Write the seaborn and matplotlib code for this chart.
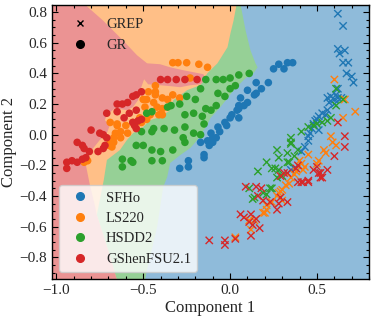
import numpy as np
import pandas as pd
import matplotlib
matplotlib.use("Agg")
import matplotlib.pyplot as plt
from matplotlib.colors import to_rgb
from matplotlib.ticker import MultipleLocator
from matplotlib.lines import Line2D
import seaborn as sns

EOS = ["SFHo", "LS220", "HSDD2", "GShenFSU2.1"]
TAB = ["#1f77b4", "#ff7f0e", "#2ca02c", "#d62728"]

# GR simulations (circles), PCA components
GR_SFHO = [(0.25, 0.43), (0.28, 0.46), (0.31, 0.43), (0.33, 0.47), (0.36, 0.47),
           (0.15, 0.34), (0.22, 0.34), (0.18, 0.30), (0.10, 0.29), (0.14, 0.26),
           (0.15, 0.27), (0.06, 0.24), (0.10, 0.21), (0.08, 0.19), (0.05, 0.19),
           (0.05, 0.17), (0.04, 0.16), (0.05, 0.11), (0.01, 0.13), (0.00, 0.11),
           (-0.03, 0.08), (-0.02, 0.06), (-0.07, 0.05), (-0.06, 0.02), (-0.11, 0.01),
           (-0.10, -0.02), (-0.08, -0.02), (-0.13, -0.04), (-0.10, -0.05), (-0.12, -0.07),
           (-0.17, -0.05), (-0.15, -0.13), (-0.15, -0.15), (-0.24, -0.17), (-0.24, -0.21),
           (-0.29, -0.22)]
GR_LS220 = [(-0.33, 0.47), (-0.30, 0.47), (-0.25, 0.47), (-0.18, 0.46), (-0.13, 0.44),
            (-0.23, 0.37), (-0.43, 0.32), (-0.43, 0.28), (-0.47, 0.28), (-0.48, 0.23),
            (-0.50, 0.23), (-0.49, 0.18), (-0.43, 0.26), (-0.39, 0.24), (-0.36, 0.23),
            (-0.33, 0.26), (-0.29, 0.24), (-0.44, 0.21), (-0.42, 0.18), (-0.41, 0.13),
            (-0.46, 0.13), (-0.39, 0.13), (-0.39, 0.17), (-0.52, 0.11), (-0.48, 0.10),
            (-0.51, 0.08), (-0.56, 0.08), (-0.60, 0.06), (-0.65, 0.06), (-0.63, 0.02),
            (-0.59, 0.01), (-0.66, 0.01), (-0.67, -0.05), (-0.69, 0.08), (-0.65, 0.07),
            (-0.63, -0.02), (-0.67, -0.02), (-0.69, -0.05), (-0.70, -0.07), (-0.68, -0.08),
            (-0.82, -0.17), (-0.84, -0.18)]
GR_HSDD2 = [(-0.14, 0.36), (-0.08, 0.36), (-0.04, 0.36), (0.00, 0.37), (0.05, 0.39),
            (0.11, 0.40), (0.03, 0.32), (0.00, 0.30), (-0.07, 0.27), (-0.03, 0.25),
            (-0.17, 0.30), (-0.25, 0.25), (-0.36, 0.18), (-0.29, 0.20), (-0.20, 0.23),
            (-0.14, 0.17), (-0.11, 0.16), (-0.08, 0.19), (-0.16, 0.12), (-0.15, 0.07),
            (-0.21, 0.14), (-0.26, 0.13), (-0.34, 0.19), (-0.45, 0.15), (-0.48, 0.14),
            (-0.26, 0.05), (-0.21, 0.01), (-0.32, 0.03), (-0.38, 0.04), (-0.44, 0.04),
            (-0.51, 0.02), (-0.45, 0.02), (-0.27, -0.02), (-0.17, 0.00), (-0.26, -0.05),
            (-0.33, -0.10), (-0.40, -0.11), (-0.45, -0.10), (-0.50, -0.07), (-0.54, -0.07),
            (-0.45, -0.17), (-0.39, -0.17), (-0.62, -0.16), (-0.57, -0.17), (-0.62, -0.21),
            (-0.56, -0.18)]
GR_GSHEN = [(-0.40, 0.36), (-0.36, 0.36), (-0.31, 0.36), (-0.26, 0.36), (-0.19, 0.36),
            (-0.51, 0.28), (-0.54, 0.26), (-0.56, 0.25), (-0.59, 0.21), (-0.62, 0.20),
            (-0.65, 0.20), (-0.71, 0.14), (-0.58, 0.14), (-0.54, 0.16), (-0.65, 0.15),
            (-0.61, 0.11), (-0.51, 0.10), (-0.53, 0.09), (-0.56, 0.08), (-0.55, 0.06),
            (-0.54, 0.04), (-0.80, 0.03), (-0.75, 0.01), (-0.73, 0.00), (-0.71, -0.02),
            (-0.88, -0.05), (-0.85, -0.07), (-0.84, -0.09), (-0.81, -0.11), (-0.76, -0.11),
            (-0.73, -0.09), (-0.72, -0.07), (-0.94, -0.18), (-0.94, -0.22), (-0.91, -0.17),
            (-0.88, -0.18), (-0.85, -0.16), (-0.83, -0.15)]

# GREP simulations (crosses)
GREP_SFHO = [(0.62, 0.79), (0.65, 0.71), (0.62, 0.56), (0.66, 0.55), (0.63, 0.53),
             (0.65, 0.47), (0.68, 0.47), (0.67, 0.40), (0.70, 0.38), (0.71, 0.34),
             (0.62, 0.30), (0.56, 0.24), (0.58, 0.25), (0.60, 0.23), (0.62, 0.24),
             (0.57, 0.21), (0.60, 0.20), (0.64, 0.24), (0.61, 0.26), (0.56, 0.16),
             (0.55, 0.13), (0.53, 0.14), (0.51, 0.12), (0.50, 0.10), (0.49, 0.09),
             (0.48, 0.07), (0.51, 0.03), (0.47, 0.04), (0.46, 0.01), (0.45, -0.01),
             (0.45, -0.04), (0.43, -0.08), (0.41, -0.11), (0.35, -0.23), (0.37, -0.22)]
GREP_LS220 = [(0.60, 0.36), (0.66, 0.23), (0.72, 0.15), (0.65, 0.11), (0.58, -0.01),
              (0.59, -0.05), (0.61, -0.07), (0.54, -0.10), (0.55, -0.12), (0.51, -0.17),
              (0.45, -0.13), (0.40, -0.17), (0.42, -0.23), (0.38, -0.24), (0.35, -0.28),
              (0.34, -0.32), (0.41, -0.19), (0.37, -0.26), (0.29, -0.37), (0.28, -0.38),
              (0.30, -0.36), (0.27, -0.40), (0.21, -0.46), (0.21, -0.49), (0.19, -0.51),
              (0.20, -0.51), (0.14, -0.56), (0.11, -0.56), (0.12, -0.62), (0.03, -0.67),
              (0.50, -0.19), (0.43, -0.21), (0.30, -0.43), (0.24, -0.44), (0.32, -0.33)]
GREP_HSDD2 = [(0.61, 0.30), (0.61, 0.19), (0.65, 0.23), (0.58, 0.11), (0.56, 0.09),
              (0.53, 0.08), (0.50, 0.07), (0.48, 0.06), (0.45, 0.05), (0.41, 0.02),
              (0.35, -0.02), (0.35, -0.05), (0.35, -0.06), (0.39, -0.10), (0.27, -0.10),
              (0.33, -0.12), (0.28, -0.15), (0.37, -0.14), (0.21, -0.18), (0.34, -0.18),
              (0.24, -0.22), (0.28, -0.23), (0.30, -0.27), (0.27, -0.28), (0.24, -0.35),
              (0.16, -0.24), (0.11, -0.35), (0.13, -0.42), (0.19, -0.38), (0.21, -0.39),
              (0.14, -0.41), (0.23, -0.35), (0.33, -0.18), (0.26, -0.22)]
GREP_GSHEN = [(0.62, 0.08), (0.66, -0.01), (0.66, -0.08), (0.60, -0.14), (0.56, -0.23),
              (0.51, -0.25), (0.52, -0.28), (0.48, -0.23), (0.45, -0.31), (0.42, -0.31),
              (0.39, -0.31), (0.38, -0.22), (0.39, -0.20), (0.33, -0.25), (0.29, -0.27),
              (0.28, -0.45), (0.29, -0.41), (0.23, -0.44), (0.18, -0.35), (0.15, -0.34),
              (0.16, -0.40), (0.19, -0.43), (0.12, -0.52), (0.15, -0.55), (0.06, -0.52),
              (0.08, -0.54), (0.11, -0.57), (0.17, -0.61), (0.12, -0.66), (0.13, -0.59),
              (-0.03, -0.69), (-0.03, -0.72), (-0.12, -0.69), (0.03, -0.68), (0.09, -0.34),
              (0.27, -0.49), (0.33, -0.44), (0.31, -0.25), (0.45, -0.30), (0.41, -0.31),
              (0.52, -0.25), (0.53, -0.28), (0.50, -0.21)]

# classifier decision boundaries (top -> bottom)
EDGE_GREEN_BLUE = [(0.060, 0.85), (0.089, 0.681), (0.117, 0.551), (0.146, 0.466),
                   (0.158, 0.440), (0.135, 0.401), (0.089, 0.369), (0.020, 0.291),
                   (-0.015, 0.238), (-0.056, 0.180), (-0.114, 0.108), (-0.131, 0.063),
                   (-0.189, -0.035), (-0.229, -0.087), (-0.287, -0.133), (-0.345, -0.185),
                   (-0.362, -0.276), (-0.385, -0.342), (-0.420, -0.602), (-0.478, -0.883),
                   (-0.490, -0.95)]
EDGE_ORANGE_GREEN = [(0.037, 0.85), (0.020, 0.746), (0.002, 0.662), (-0.015, 0.571),
                     (-0.073, 0.466), (-0.131, 0.401), (-0.160, 0.345), (-0.172, 0.323),
                     (-0.247, 0.291), (-0.287, 0.258), (-0.327, 0.225), (-0.345, 0.160),
                     (-0.403, 0.115), (-0.461, 0.095), (-0.501, 0.050), (-0.559, 0.010),
                     (-0.594, -0.035), (-0.634, -0.100), (-0.709, -0.165), (-0.727, -0.296),
                     (-0.750, -0.427), (-0.767, -0.524), (-0.703, -0.752), (-0.651, -0.95)]
EDGE_RED_ORANGE = [(-0.836, 0.85), (-0.732, 0.746), (-0.617, 0.616), (-0.536, 0.519),
                   (-0.478, 0.466), (-0.403, 0.460), (-0.345, 0.440), (-0.270, 0.421),
                   (-0.212, 0.408), (-0.154, 0.395), (-0.137, 0.362), (-0.172, 0.329),
                   (-0.229, 0.323), (-0.287, 0.310), (-0.345, 0.317), (-0.403, 0.323),
                   (-0.472, 0.329), (-0.495, 0.362), (-0.513, 0.304), (-0.530, 0.225),
                   (-0.559, 0.180), (-0.594, 0.160), (-0.663, 0.173), (-0.709, 0.128),
                   (-0.721, 0.095), (-0.692, 0.063), (-0.709, 0.010), (-0.750, -0.035),
                   (-0.796, -0.100), (-0.836, -0.165), (-0.807, -0.328), (-0.779, -0.459),
                   (-0.767, -0.524), (-0.703, -0.752), (-0.651, -0.95)]

XLIM = (-1.025, 0.80)
YLIM = (-0.943, 0.846)

rows = []
for sim, groups in [("GR", [GR_SFHO, GR_LS220, GR_HSDD2, GR_GSHEN]),
                    ("GREP", [GREP_SFHO, GREP_LS220, GREP_HSDD2, GREP_GSHEN])]:
    for name, pts in zip(EOS, groups):
        for x, y in pts:
            rows.append({"Component 1": x, "Component 2": y, "EOS": name, "sim": sim})
df = pd.DataFrame(rows)


def light(c, a=0.5):
    # colour at alpha a over a white background, kept opaque so layers don't mix
    r = np.array(to_rgb(c))
    return tuple(a * r + (1 - a))


sns.set_theme(style="ticks")
plt.rcParams["font.family"] = ["Liberation Serif", "DejaVu Serif"]
plt.rcParams["xtick.direction"] = "in"
plt.rcParams["ytick.direction"] = "in"

fig = plt.figure(figsize=(3.74, 3.19), dpi=100)
ax = fig.add_axes([0.139, 0.125, 0.848, 0.859])

# decision regions: SFHo everywhere, then the other classes stacked on top
ax.set_facecolor(light(TAB[0]))
for edge, col in [(EDGE_GREEN_BLUE, TAB[2]), (EDGE_ORANGE_GREEN, TAB[1]), (EDGE_RED_ORANGE, TAB[3])]:
    xs = [p[0] for p in edge] + [-1.2, -1.2]
    ys = [p[1] for p in edge] + [-1.0, 1.0]
    ax.fill(xs, ys, color=light(col), lw=0, zorder=0)

sns.scatterplot(data=df[df["sim"] == "GR"], x="Component 1", y="Component 2", hue="EOS",
                hue_order=EOS, palette=TAB, marker="o", s=30, linewidth=0, ax=ax, legend=False,
                zorder=2)
sns.scatterplot(data=df[df["sim"] == "GREP"], x="Component 1", y="Component 2", hue="EOS",
                hue_order=EOS, palette=TAB, marker="x", s=28, linewidth=1.0, ax=ax, legend=False,
                zorder=2)

ax.set_xlim(*XLIM)
ax.set_ylim(*YLIM)
ax.set_xlabel("Component 1", fontsize=12, labelpad=2)
ax.set_ylabel("Component 2", fontsize=12, labelpad=2)
ax.xaxis.set_major_locator(MultipleLocator(0.5))
ax.xaxis.set_minor_locator(MultipleLocator(0.1))
ax.yaxis.set_major_locator(MultipleLocator(0.2))
ax.yaxis.set_minor_locator(MultipleLocator(0.05))
ax.tick_params(which="both", top=True, right=True, labelsize=11, width=0.8, color="black")
ax.tick_params(which="major", length=4.5)
ax.tick_params(which="minor", length=2.2)
for sp in ax.spines.values():
    sp.set_linewidth(1.0)
    sp.set_color("black")
    sp.set_zorder(5)

eos_handles = [Line2D([], [], marker="o", ls="", color=c, markersize=5.5) for c in TAB]
leg1 = ax.legend(eos_handles, EOS, loc="lower left", fontsize=10.5, frameon=True)
ax.add_artist(leg1)
sim_handles = [Line2D([], [], marker="x", ls="", color="black", markersize=5, mew=1.0),
               Line2D([], [], marker="o", ls="", color="black", markersize=5.5)]
ax.legend(sim_handles, ["GREP", "GR"], loc="upper left", fontsize=10.5, frameon=False)

fig.savefig("out.png", dpi=100)
